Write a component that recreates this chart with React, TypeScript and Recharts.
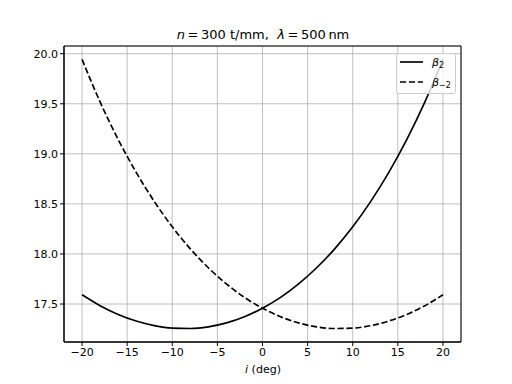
import React from 'react';
import {
  LineChart,
  Line,
  XAxis,
  YAxis,
  CartesianGrid,
  ReferenceArea,
} from 'recharts';

// incidence angle i (deg)
const incidence = [-20, -18, -16, -14, -12, -10, -8, -6, -4, -2, 0, 2, 4, 6, 8, 10, 12, 14, 16, 18, 20];

// beta_2 values
const beta2 = [
  17.592, 17.483, 17.396, 17.33, 17.284, 17.259, 17.255, 17.272, 17.311, 17.373, 17.458,
  17.566, 17.701, 17.862, 18.051, 18.271, 18.525, 18.815, 19.144, 19.518, 19.943,
];

// beta_-2 values
const betaMinus2 = [
  19.943, 19.518, 19.144, 18.815, 18.525, 18.271, 18.051, 17.862, 17.701, 17.566, 17.458,
  17.373, 17.311, 17.272, 17.255, 17.259, 17.284, 17.33, 17.396, 17.483, 17.592,
];

const xTicks = [-20, -15, -10, -5, 0, 5, 10, 15, 20];
const yTicks = [17.5, 18.0, 18.5, 19.0, 19.5, 20.0];

const X_DOMAIN: [number, number] = [-22, 22];
const Y_DOMAIN: [number, number] = [17.1205, 20.077];

const data = incidence.map((i, k) => ({
  i,
  b2: beta2[k],
  bm2: betaMinus2[k],
}));

const FONT = 'DejaVu Sans, sans-serif';

const fmtX = (v: number) => (v < 0 ? '\u2212' + Math.abs(v) : String(v));

const LegendBox = () => (
  <svg width={60} height={42} style={{ display: 'block' }}>
    <rect x={0.5} y={0.5} width={59} height={40} rx={2} fill="rgba(255,255,255,0.8)" stroke="#cccccc" />
    <line x1={4} y1={9} x2={27} y2={9} stroke="#000" strokeWidth={1.67} />
    <text x={36} y={13} fontFamily={FONT} fontSize={11} fontStyle="italic">
      β<tspan fontSize={8} dy={2} fontStyle="normal">2</tspan>
    </text>
    <line x1={4} y1={29} x2={27} y2={29} stroke="#000" strokeWidth={1.67} strokeDasharray="6.2 2.7" />
    <text x={36} y={33} fontFamily={FONT} fontSize={11} fontStyle="italic">
      β<tspan fontSize={8} dy={2} fontStyle="normal">{'\u22122'}</tspan>
    </text>
  </svg>
);

const App: React.FC = () => {
  return (
    <div style={{ position: 'absolute', left: 0, top: 0, width: 512, height: 384, background: '#fff' }}>
      <div
        style={{
          position: 'absolute',
          left: 0,
          width: 526,
          top: 27,
          textAlign: 'center',
          fontFamily: FONT,
          fontSize: 13,
          whiteSpace: 'pre',
        }}
      >
        <i>n</i>{'\u2009=\u2009300 t/mm,  '}<i>λ</i>{'\u2009=\u2009500\u2009nm'}
      </div>
      <LineChart
        width={512}
        height={384}
        data={data}
        margin={{ top: 46, right: 51, bottom: 0, left: 0 }}
      >
        <CartesianGrid stroke="#b0b0b0" strokeWidth={0.8} />
        <XAxis
          dataKey="i"
          type="number"
          domain={X_DOMAIN}
          ticks={xTicks}
          tickFormatter={fmtX}
          allowDataOverflow
          height={42}
          tickSize={4}
          tickLine={{ stroke: '#000' }}
          axisLine={{ stroke: '#000' }}
          tick={{ fill: '#000', fontFamily: FONT, fontSize: 11 }}
        />
        <YAxis
          type="number"
          domain={Y_DOMAIN}
          ticks={yTicks}
          tickFormatter={(v: number) => v.toFixed(1)}
          allowDataOverflow
          width={64}
          tickSize={4}
          tickLine={{ stroke: '#000' }}
          axisLine={{ stroke: '#000' }}
          tick={{ fill: '#000', fontFamily: FONT, fontSize: 11 }}
        />
        <ReferenceArea
          x1={X_DOMAIN[0]}
          x2={X_DOMAIN[1]}
          y1={Y_DOMAIN[0]}
          y2={Y_DOMAIN[1]}
          fill="none"
          stroke="#000"
          strokeWidth={1}
          ifOverflow="visible"
        />
        <Line
          dataKey="b2"
          type="monotone"
          stroke="#000"
          strokeWidth={1.67}
          dot={false}
          isAnimationActive={false}
        />
        <Line
          dataKey="bm2"
          type="monotone"
          stroke="#000"
          strokeWidth={1.67}
          strokeDasharray="6.2 2.7"
          dot={false}
          isAnimationActive={false}
        />
      </LineChart>
      <div style={{ position: 'absolute', left: 396, top: 53 }}>
        <LegendBox />
      </div>
      <div
        style={{
          position: 'absolute',
          left: 0,
          width: 526,
          top: 363,
          textAlign: 'center',
          fontFamily: FONT,
          fontSize: 11,
        }}
      >
        <i>i</i> (deg)
      </div>
    </div>
  );
};

export default App;
